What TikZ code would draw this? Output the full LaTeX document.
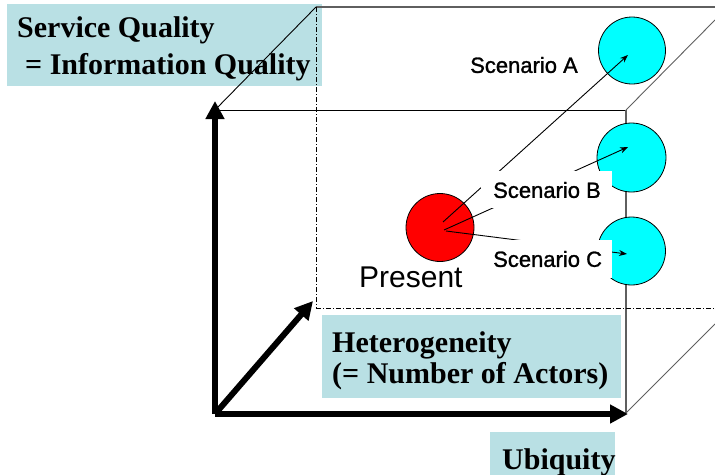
\documentclass[tikz,border=0pt]{standalone}
\usepackage{fontspec}
\setmainfont{Liberation Serif}
\newfontfamily\lsans{Liberation Sans}
\newfontfamily\lsansheavy[FakeBold=1.2]{Liberation Sans}
\usetikzlibrary{arrows.meta,calc}
\definecolor{lblue}{RGB}{185,224,228}
\definecolor{cyanc}{RGB}{0,255,255}
\definecolor{edgegray}{RGB}{95,95,95}
\begin{document}
\begin{tikzpicture}[x=1pt,y=-1pt,
  lblbox/.style={fill=lblue, draw=none, anchor=north west, inner sep=0pt},
  lbltxt/.style={font=\bfseries\fontsize{30}{36}\selectfont, anchor=base west, inner sep=0pt},
  wbox/.style={fill=white, draw=none, anchor=north west, inner sep=0pt, minimum width=131pt},
  scen/.style={font=\lsansheavy\fontsize{22}{26}\selectfont, anchor=west, inner sep=0pt},
  ball/.style={circle, draw=black, line width=0.8pt, inner sep=0pt},
  edge/.style={line width=0.9pt, draw=black},
  grayedge/.style={line width=1.6pt, draw=edgegray},
  dashdot/.style={line width=0.9pt, dash pattern=on 5pt off 2pt on 1pt off 2pt},
  axisarrow/.style={line width=6pt, -{Triangle[length=18pt,width=18pt]}},
  scenarrow/.style={line width=0.9pt, -{Stealth[length=8pt,width=6pt]}}]
\useasboundingbox (0,0) rectangle (715,474);

% label boxes
\node[lblbox, minimum width=315pt, minimum height=82pt] (sqbox) at (7,4) {};
\node[lbltxt] (sq1) at (17,37) {Service Quality};
\node[lbltxt] (sq2) at (25,74) {= Information Quality};
\node[lblbox, minimum width=299pt, minimum height=83pt] (hetbox) at (322,315) {};
\node[lbltxt] (het1) at (332,352) {Heterogeneity};
\node[lbltxt] (het2) at (332,383) {(= Number of Actors)};
\node[lblbox, minimum width=125pt, minimum height=44pt] (ubibox) at (490,432) {};
\node[lbltxt] (ubi) at (502,469) {Ubiquity};

% cube corners
\coordinate (O) at (215,414);
\coordinate (FTL) at (215,110);
\coordinate (FTR) at (626,110);
\coordinate (FBR) at (626,413);
\coordinate (BTL) at (316,7);
\coordinate (BBL) at (316,308);
\coordinate (BTRend) at (715,7);
\coordinate (TRend) at (715,20);
\coordinate (BRend) at (715,324);
\coordinate (BBRend) at (715,308);

\draw[edge] (FTL) -- (FTR);
\draw[grayedge] (FTR) -- (FBR);
\draw[edge] (FTL) -- (BTL);
\draw[grayedge] (BTL) -- (BTRend);
\draw[edge, draw=edgegray] (FTR) -- (TRend);
\draw[edge, draw=edgegray] (FBR) -- (BRend);
\draw[dashdot] (BTL) -- (BBL);
\draw[dashdot] (BBL) -- (BBRend);

% axes
\coordinate (Vtip) at (215,101);
\coordinate (Htip) at (628,414);
\coordinate (Dtip) at (313,301);
\draw[axisarrow] (O) -- (Vtip);
\draw[axisarrow] (O) -- (Htip);
\draw[axisarrow] (O) -- (Dtip);

% circles
\node[ball, fill=red, minimum size=68pt] (pres) at (440,227.5) {};
\node[ball, fill=cyanc, minimum size=67pt] (sa) at (632,50.5) {};
\node[ball, fill=cyanc, minimum size=69pt] (sb) at (631.5,157.5) {};
\node[ball, fill=cyanc, minimum size=68pt] (sc) at (631.5,251) {};

% scenario arrows
\coordinate (stA) at (443,222);
\coordinate (stB) at (444,230);
\coordinate (stC) at (446,231);
\coordinate (tipA) at (628,55);
\coordinate (tipB) at (628,147);
\coordinate (tipC) at (627,254);
\draw[scenarrow] (stA) -- (tipA);
\draw[scenarrow] (stB) -- (tipB);
\draw[scenarrow] (stC) -- (tipC);

% scenario labels
\node[scen] (labA) at (470,65) {Scenario A};
\node[wbox, minimum height=37pt] (boxB) at (481,171) {};
\node[scen] (labB) at (493,190) {Scenario B};
\node[wbox, minimum height=38pt] (boxC) at (481,239.5) {};
\node[scen] (labC) at (493,259) {Scenario C};
\node[font=\lsans\fontsize{30}{36}\selectfont, anchor=base west, inner sep=0pt] (labP) at (359,287) {Present};
\end{tikzpicture}
\end{document}
